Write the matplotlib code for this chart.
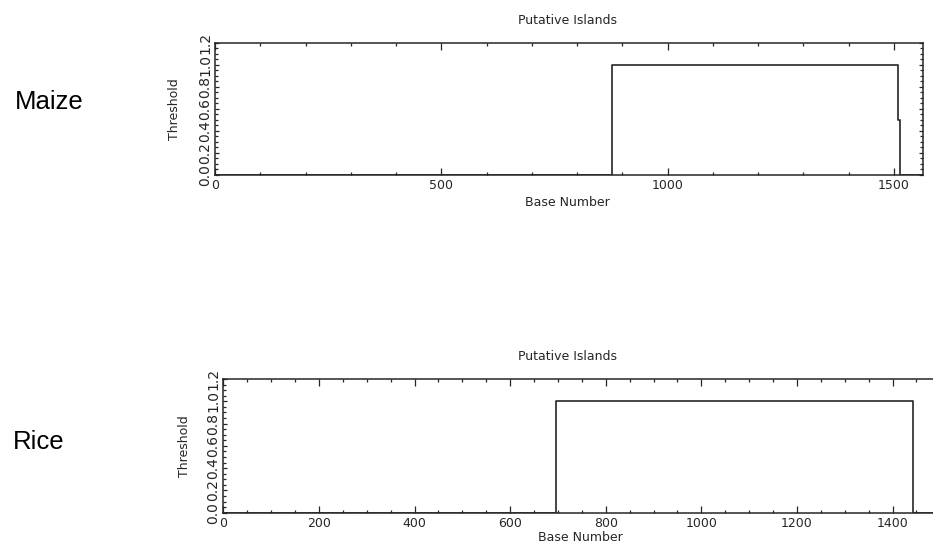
import matplotlib
matplotlib.use("Agg")
import matplotlib.pyplot as plt
from matplotlib.ticker import MultipleLocator, FormatStrFormatter

# ---- data ----
maize_base = [0, 876, 1508, 1514, 1564]
maize_threshold = [0.0, 1.0, 0.5, 0.0, 0.0]
maize_xmax = 1564

rice_base = [0, 697, 1443, 1493]
rice_threshold = [0.0, 1.0, 0.0, 0.0]
rice_xmax = 1493

species = ["Maize", "Rice"]
title = "Putative Islands"
xlabel = "Base Number"
ylabel = "Threshold"

W, H = 933, 550
fig = plt.figure(figsize=(W / 100, H / 100), dpi=100)
ink = "#262626"
fs = 9

def px(l, t, r, b):
    return [l / W, 1 - b / H, (r - l) / W, (b - t) / H]

def style(ax, xmax, xmajor, xminor, xlab_pos, ylab_pos):
    ax.set_xlim(0, xmax)
    ax.set_ylim(0, 1.2)
    ax.xaxis.set_major_locator(MultipleLocator(xmajor))
    ax.xaxis.set_minor_locator(MultipleLocator(xminor))
    ax.yaxis.set_major_locator(MultipleLocator(0.2))
    ax.yaxis.set_minor_locator(MultipleLocator(0.05))
    ax.yaxis.set_major_formatter(FormatStrFormatter("%.1f"))
    for s in ax.spines.values():
        s.set_linewidth(1.1)
        s.set_color(ink)
    ax.tick_params(which="both", direction="in", top=True, right=True,
                   colors=ink, labelsize=fs, width=0.9)
    ax.tick_params(axis="x", which="major", length=5, pad=3)
    ax.tick_params(axis="x", which="minor", length=2.5)
    ax.tick_params(axis="y", which="major", length=3, pad=2, labelsize=10)
    ax.tick_params(axis="y", which="minor", length=2)
    for lab in ax.get_yticklabels():
        lab.set_rotation(90)
        lab.set_va("center")
        lab.set_ha("right")
    ax.set_xlabel(xlabel, fontsize=fs, color=ink)
    ax.xaxis.set_label_coords(*xlab_pos)
    ax.xaxis.label.set_va("center")
    ax.set_ylabel(ylabel, fontsize=fs, color=ink)
    ax.yaxis.set_label_coords(*ylab_pos)
    ax.yaxis.label.set_va("center")

# Maize panel
ax1 = fig.add_axes(px(215, 43, 923, 175))
ax1.step(maize_base, maize_threshold, where="post", color=ink, lw=1.2)
style(ax1, maize_xmax, 500, 100, (0.497, -0.21), (-0.0565, 0.5))

# Rice panel
ax2 = fig.add_axes(px(223.3, 379, 937, 512.7))
ax2.step(rice_base, rice_threshold, where="post", color=ink, lw=1.2)
style(ax2, rice_xmax, 200, 50, (0.50, -0.182), (-0.054, 0.5))

fig.text(567 / W, 1 - 20 / H, title, ha="center", va="center", fontsize=fs, color=ink)
fig.text(567 / W, 1 - 356 / H, title, ha="center", va="center", fontsize=fs, color=ink)

fig.text(15 / W, 1 - 102 / H, species[0], ha="left", va="center",
         fontsize=18.5, family="Liberation Sans", color="black")
fig.text(13 / W, 1 - 442 / H, species[1], ha="left", va="center",
         fontsize=18.5, family="Liberation Sans", color="black")

fig.savefig("out.png", dpi=100, facecolor="white")
